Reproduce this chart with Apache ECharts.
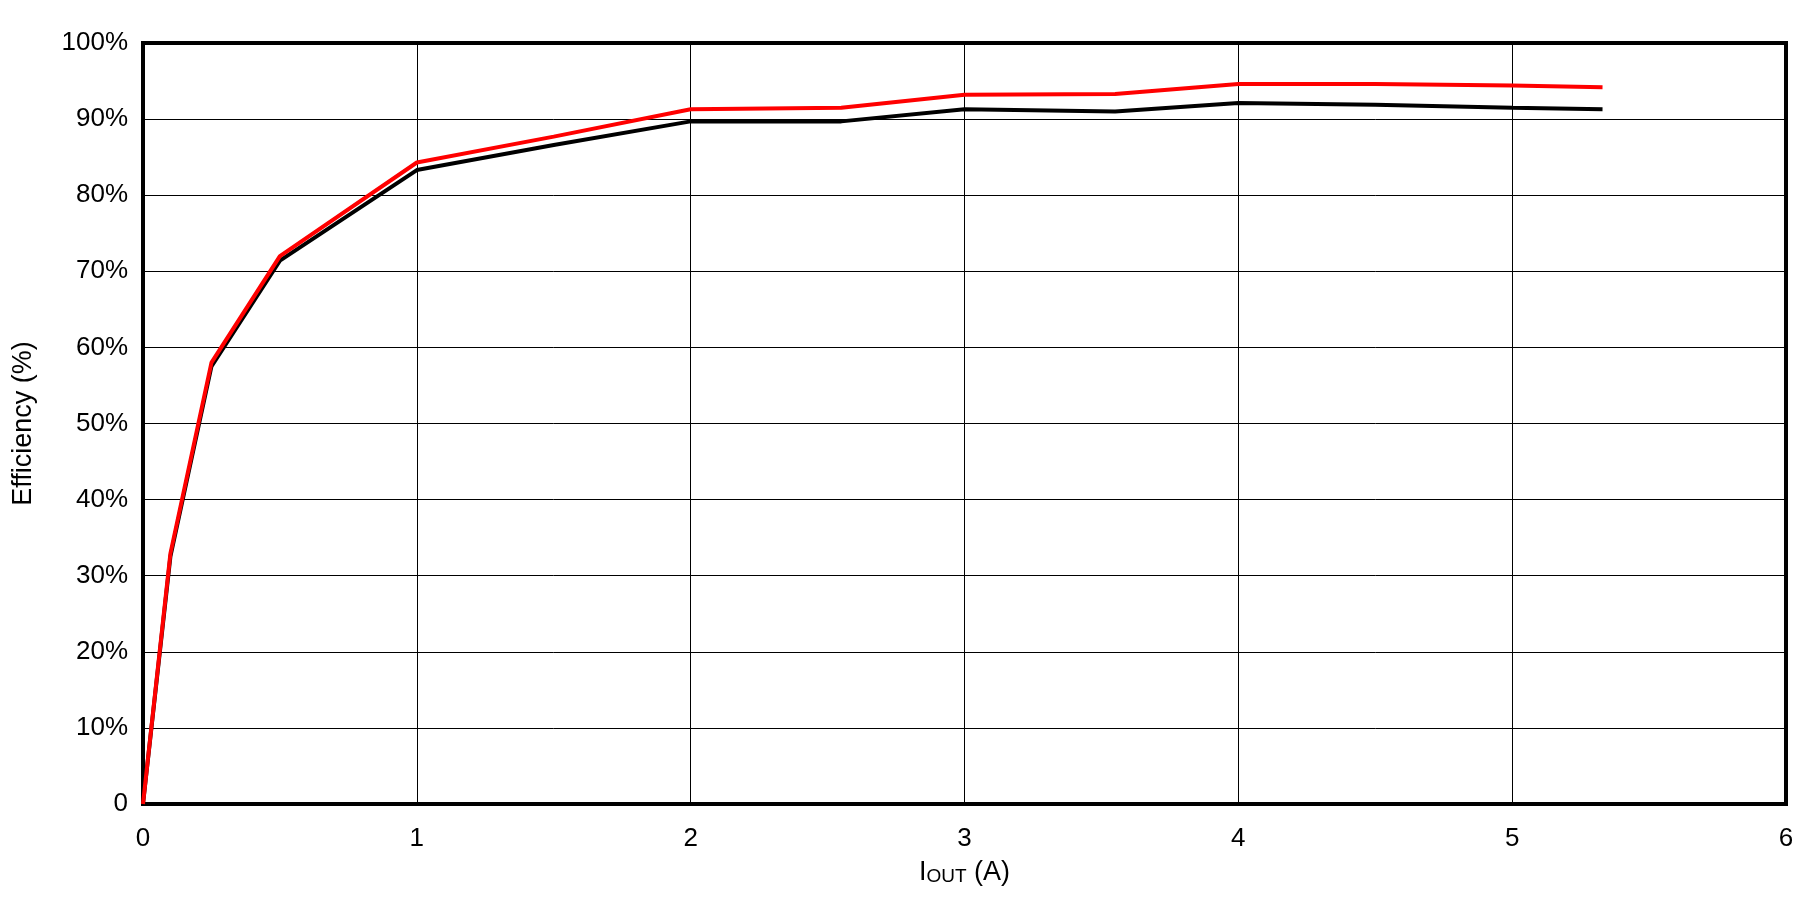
<!DOCTYPE html>
<html>
<head>
<meta charset="utf-8">
<style>
  html, body { margin: 0; padding: 0; background: #fff; }
  #chart { width: 1819px; height: 897px; }
</style>
<script src="https://cdn.jsdelivr.net/npm/echarts@6/dist/echarts.min.js"></script>
</head>
<body>
<div id="chart"></div>
<script>
// output current (A)
const iout = [0, 0.1, 0.25, 0.5, 1.0, 1.5, 2.0, 2.55, 3.0, 3.55, 4.0, 4.5, 5.0, 5.33];
// efficiency (%)
const effRed = [0, 32.9, 58.0, 72.0, 84.3, 87.7, 91.3, 91.5, 93.2, 93.3, 94.6, 94.6, 94.4, 94.2];
const effBlack = [0, 32.5, 57.5, 71.4, 83.3, 86.6, 89.7, 89.7, 91.3, 91.0, 92.1, 91.9, 91.5, 91.3];

const toPairs = (xs, ys) => xs.map((x, i) => [x, ys[i]]);

const font = 'Liberation Sans, Arial, sans-serif';

const myChart = echarts.init(document.getElementById('chart'));

const option = {
    backgroundColor: '#fff',
    animation: false,
    grid: {
        left: 143,
        right: 33,
        top: 43,
        bottom: 93,
        show: true,
        borderColor: '#000',
        borderWidth: 4,
        containLabel: false
    },
    xAxis: {
        type: 'value',
        min: 0,
        max: 6,
        interval: 1,
        name: '{n|I}{s|OUT}{n| (A)}',
        nameLocation: 'middle',
        nameGap: 52,
        nameTextStyle: {
            rich: {
                n: { fontSize: 27, fontFamily: font, color: '#000', lineHeight: 30, verticalAlign: 'bottom' },
                s: { fontSize: 19, fontFamily: font, color: '#000', lineHeight: 24, verticalAlign: 'bottom' }
            }
        },
        axisLine: { show: false },
        axisTick: { show: false },
        axisLabel: {
            fontSize: 26,
            fontFamily: font,
            color: '#000',
            margin: 22
        },
        splitLine: { show: true, lineStyle: { color: '#000', width: 1 } }
    },
    yAxis: {
        type: 'value',
        min: 0,
        max: 100,
        interval: 10,
        name: 'Efficiency (%)',
        nameLocation: 'middle',
        nameGap: 106,
        nameTextStyle: { fontSize: 27, fontFamily: font, color: '#000' },
        axisLine: { show: false },
        axisTick: { show: false },
        axisLabel: {
            fontSize: 26,
            fontFamily: font,
            color: '#000',
            margin: 15,
            formatter: v => (v === 0 ? '0' : v + '%')
        },
        splitLine: { show: true, lineStyle: { color: '#000', width: 1 } }
    },
    series: [
        {
            type: 'line',
            data: toPairs(iout, effBlack),
            showSymbol: false,
            lineStyle: { color: '#000', width: 4 },
            z: 3
        },
        {
            type: 'line',
            data: toPairs(iout, effRed),
            showSymbol: false,
            lineStyle: { color: '#ff0000', width: 4 },
            z: 4
        }
    ]
};

myChart.setOption(option);
window.addEventListener('resize', () => myChart.resize());
</script>
</body>
</html>
